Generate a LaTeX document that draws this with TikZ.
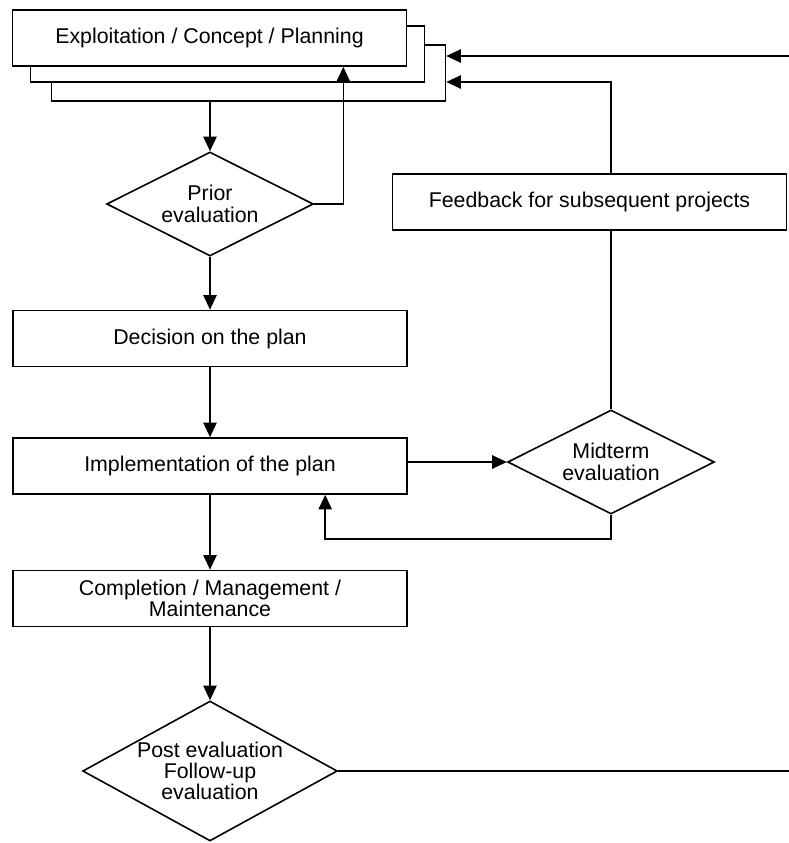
\documentclass[tikz,border=0pt]{standalone}
\usepackage{fontspec}
\setmainfont{Liberation Sans}
\usepackage{tikz}
\usetikzlibrary{
  arrows.meta,
  positioning,
  calc,
  shapes.geometric
}

\begin{document}
\begin{tikzpicture}[
    x=0.75pt, y=-0.75pt,
    font=\fontsize{16}{16}\selectfont,
    line width=1.2pt,
    blk/.style={draw, fill=white, align=center, inner sep=2pt, minimum width=295.5pt, minimum height=42pt},
    dec/.style={draw, fill=white, diamond, aspect=2, align=center, inner sep=0pt, minimum width=155pt, minimum height=78pt},
    arr/.style={-{Triangle[length=11pt, width=10pt]}}
  ]
    \useasboundingbox (0,0) rectangle (789,843);
    \node[blk] (plan3) at (248.5,73) {};
    \node[blk] (plan2) at (227.5,54) {};
    \node[blk] (plan)  at (209.5,38) {Exploitation / Concept / Planning};
    \node[dec] (prior) at (210,204) {Prior\\evaluation};
    \node[blk] (decide) at (210,338.5) {Decision on the plan};
    \node[blk] (impl) at (210,466) {Implementation of the plan};
    \node[dec] (mid) at (611,462) {Midterm\\evaluation};
    \node[blk] (feed) at (589.5,202) {Feedback for subsequent projects};
    \node[blk] (done) at (210,598.5) {Completion / Management /\\Maintenance};
    \node[dec, aspect=1.82, minimum width=191pt, minimum height=105pt] (post) at (210,771)
      {Post evaluation\\Follow-up\\evaluation};
    \coordinate (fbin) at (789,56);
    \coordinate (postout) at (789,771);
    \draw[arr] (prior.north |- plan3.south) -- (prior.north);
    \draw[arr] (prior.east) -| ($(plan.south east)+(-64,0)$);
    \draw[arr] (prior.south) -- (decide.north);
    \draw[arr] (decide.south) -- (impl.north);
    \draw[arr] (mid.west -| impl.east) -- (mid.west);
    \draw[arr] (mid.south) -- ++(0,24) -| ($(impl.south west)+(313,0)$);
    \draw (mid.north) -- (mid.north |- feed.south);
    \draw[arr] (mid.north |- feed.north) |- ($(plan3.east)+(0,9)$);
    \draw[arr] (fbin) -- (fbin -| plan3.east);
    \draw[arr] (impl.south) -- (done.north);
    \draw[arr] (done.south) -- (post.north);
    \draw (post.east) -- (postout);
  \end{tikzpicture}
\end{document}
